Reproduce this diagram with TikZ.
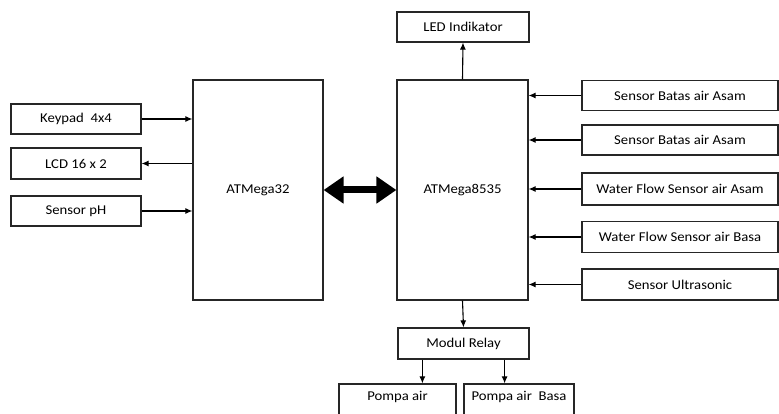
\documentclass[tikz,border=0pt]{standalone}
\usepackage{fontspec}
\setmainfont{Carlito}[FakeStretch=1.09]
\usetikzlibrary{arrows.meta}
\tikzset{
  blok/.style={draw=black!85, line width=1.2pt, fill=white, inner sep=0pt, align=center,
               font=\fontsize{13.5}{15}\selectfont},
  arr/.style={black, line width=1.1pt, -{Latex[length=7pt,width=6pt]}},
  dbl/.style={black, line width=7pt, {Triangle[length=20pt,width=26pt]}-{Triangle[length=20pt,width=26pt]}},
}

\begin{document}
\begin{tikzpicture}[x=1pt, y=-1pt]
  \useasboundingbox (0,0) rectangle (779,414);

  % --- left side: input/output of ATMega32 ---
  \node[blok, minimum width=130pt, minimum height=30pt] (keypad) at (76,119)   {Keypad\ \ 4x4};
  \node[blok, minimum width=130pt, minimum height=31pt] (lcd)    at (76,163.5) {LCD 16 x 2};
  \node[blok, minimum width=130pt, minimum height=30pt] (ph)     at (76,211)   {Sensor pH};

  % --- the two controllers ---
  \node[blok, minimum width=130pt, minimum height=220pt] (mega32)   at (258,190)   {ATMega32};
  \node[blok, minimum width=131pt, minimum height=220pt] (mega8535) at (462.5,190) {ATMega8535};

  % --- above and below ATMega8535 ---
  \node[blok, minimum width=132pt, minimum height=30pt] (led)   at (463,27)    {LED Indikator};
  \node[blok, minimum width=131pt, minimum height=31pt] (relay) at (463.5,343.5) {Modul Relay};
  \node[blok, minimum width=117pt, minimum height=32pt, text depth=8pt] (pompaA) at (397.5,400) {Pompa air};
  \node[blok, minimum width=110pt, minimum height=32pt, text depth=8pt] (pompaB) at (519,400)   {Pompa air\ \ Basa};

  % --- sensors on the right ---
  \node[blok, minimum width=196pt, minimum height=30pt] (batasA) at (680,95.5) {Sensor Batas air Asam};
  \node[blok, minimum width=196pt, minimum height=30pt] (batasB) at (680,140)  {Sensor Batas air Asam};
  \node[blok, minimum width=196pt, minimum height=32pt] (flowA)  at (680,189)  {Water Flow Sensor air Asam};
  \node[blok, minimum width=196pt, minimum height=31pt] (flowB)  at (680,237)  {Water Flow Sensor air Basa};
  \node[blok, minimum width=196pt, minimum height=31pt] (ultra)  at (680,284.5) {Sensor Ultrasonic};

  % --- connectors ---
  \draw[arr] (keypad.east) -- (keypad.east -| mega32.west);
  \draw[arr] (lcd.east -| mega32.west) -- (lcd.east);
  \draw[arr] (ph.east) -- (ph.east -| mega32.west);
  \draw[dbl] (mega32.east) -- (mega8535.west);
  \foreach \s in {batasA,batasB,flowA,flowB,ultra}
    \draw[arr] (\s.west) -- (\s.west -| mega8535.east);
  \draw[arr] (mega8535.north) -- (led.south);
  \draw[arr] (mega8535.south) -- (relay.north);
  \coordinate (rA) at ([xshift=25pt]relay.south west);
  \coordinate (rB) at ([xshift=-25pt]relay.south east);
  \draw[arr] (rA) -- (rA |- pompaA.north);
  \draw[arr] (rB) -- (rB |- pompaB.north);
\end{tikzpicture}
\end{document}
